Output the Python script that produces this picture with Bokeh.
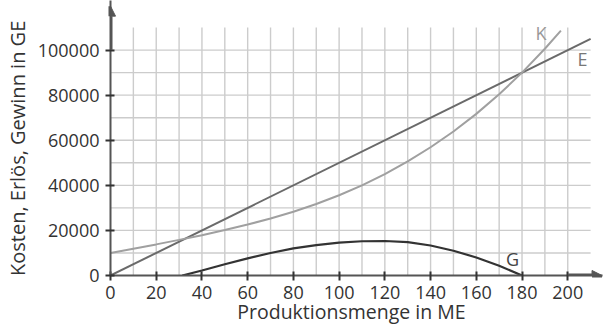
from bokeh.plotting import figure
from bokeh.models import Range1d, FixedTicker, Arrow, NormalHead, Label
from bokeh.embed import file_html
from bokeh.resources import INLINE

# ---- data ----
menge_K = [0, 10, 20, 30, 40, 50, 60, 70, 80, 90, 100, 110, 120, 130, 140, 150, 160, 170, 180, 190, 197]
kosten = [10000, 11900, 13800, 15800, 17900, 20200, 22600, 25300, 28300, 31700, 35600, 40000,
          45000, 50600, 56900, 63900, 71700, 80400, 90000, 100600, 108600]
menge_E = [0, 210]
erloes = [0, 105000]
menge_G = [31.4, 40, 50, 60, 70, 80, 90, 100, 110, 120, 130, 140, 150, 160, 170, 180]
gewinn = [0, 2200, 5000, 7600, 10000, 12000, 13500, 14600, 15200, 15300, 14800, 13300, 11000, 8000, 4300, 0]
x_ticks = [0, 20, 40, 60, 80, 100, 120, 140, 160, 180, 200]
y_ticks = [0, 20000, 40000, 60000, 80000, 100000]
curve_names = ["K", "E", "G"]
x_title = "Produktionsmenge in ME"
y_title = "Kosten, Erlös, Gewinn in GE"

FONT = "Open Sans"
X_END, Y_END = 215.2, 122000
X_GRID_END, Y_GRID_END = 210, 110000
NBSP = "\u00a0"

p = figure(width=603, height=327, output_backend="svg", toolbar_location=None,
           x_range=Range1d(0, X_END), y_range=Range1d(0, Y_END),
           min_border_left=106, min_border_right=1, min_border_top=0, min_border_bottom=52)
p.outline_line_color = None
p.xgrid.visible = False
p.ygrid.visible = False

# grid (every 10 ME / 10000 GE)
gx = list(range(10, 201, 10))
gy = list(range(10000, 100001, 10000))
p.segment(x0=gx, y0=[0] * len(gx), x1=gx, y1=[Y_GRID_END] * len(gx), line_color="#cccccc", line_width=1.4)
p.segment(x0=[0] * len(gy), y0=gy, x1=[X_GRID_END] * len(gy), y1=gy, line_color="#cccccc", line_width=1.4)

# curves
p.line(menge_E, erloes, line_color="#6a6a6a", line_width=2)
p.line(menge_K, kosten, line_color="#a0a0a0", line_width=2)
p.line(menge_G, gewinn, line_color="#333333", line_width=2.2)

# axis arrow heads (axis lines come from the Bokeh axes)
ax_col = "#555555"
p.add_layout(Arrow(x_start=200, y_start=0, x_end=X_END - 0.2, y_end=0, line_color=ax_col, line_width=4,
                   end=NormalHead(size=10, fill_color=ax_col, line_color=ax_col, line_width=1)))
p.add_layout(Arrow(x_start=0, y_start=100000, x_end=0, y_end=119500, line_color=ax_col, line_width=4,
                   end=NormalHead(size=10, fill_color=ax_col, line_color=ax_col, line_width=1)))

for ax, ticks in ((p.xaxis[0], x_ticks), (p.yaxis[0], y_ticks)):
    ax.ticker = FixedTicker(ticks=ticks)
    ax.axis_line_color = ax_col
    ax.axis_line_width = 2
    ax.major_tick_in = 4
    ax.major_tick_out = 5
    ax.major_tick_line_color = "#333333"
    ax.major_tick_line_width = 2
    ax.minor_tick_line_color = None
    ax.major_label_text_font = FONT
    ax.major_label_text_font_size = "18px"
    ax.major_label_text_color = "#333333"
    ax.axis_label_text_font = FONT
    ax.axis_label_text_font_style = "normal"
    ax.axis_label_text_color = "#333333"

p.xaxis.axis_label_text_font_size = "19.5px"
p.yaxis.axis_label_text_font_size = "20px"

# trailing no-break spaces shift the centred title onto the grid's centre
p.xaxis.axis_label = x_title + NBSP * 2
p.yaxis.axis_label = y_title + NBSP * 4
p.xaxis.major_label_standoff = 5
p.xaxis.axis_label_standoff = -4
p.yaxis.major_label_standoff = 6
p.yaxis.axis_label_standoff = 4
p.yaxis.formatter.use_scientific = False

label_pos = {"K": (188.3, 107400, "#999999"), "E": (206.5, 95900, "#777777"), "G": (175.9, 7500, "#444444")}
for name in curve_names:
    x, y, c = label_pos[name]
    p.add_layout(Label(x=x, y=y, text=name, text_align="center", text_baseline="middle",
                       text_font=FONT, text_font_size="18px", text_color=c))

open("out.html", "w").write(file_html(p, INLINE))
